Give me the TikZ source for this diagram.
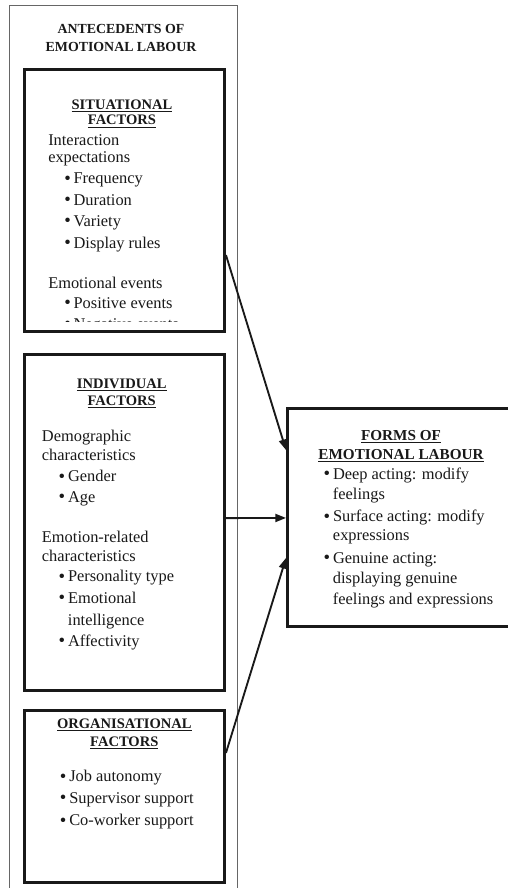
\documentclass[tikz,border=0pt]{standalone}
\usepackage{fontspec}
\setmainfont{Liberation Serif}
\usetikzlibrary{arrows.meta,calc,fit}
\newcommand\mybul{\makebox[7pt][l]{\raisebox{-0.3pt}{\fontsize{14}{14}\selectfont\textbullet}}}
\begin{document}
\begin{tikzpicture}[x=0.75pt,y=-0.75pt,
 frame/.style={draw=black!90, line width=2.2pt, inner sep=0pt},
 outer/.style={draw=black!60, line width=1.1pt, inner sep=0pt},
 txt/.style={anchor=base west, inner sep=0pt, text=black!90, font=\fontsize{12.3}{14}\selectfont},
 hd/.style={anchor=base, inner sep=0pt, text=black!90, font=\bfseries\fontsize{10.9}{13}\selectfont},
 bighd/.style={anchor=base, inner sep=0pt, text=black!90, font=\bfseries\fontsize{10.4}{12}\selectfont},
 fhd/.style={anchor=base, inner sep=0pt, text=black!90, font=\bfseries\fontsize{11.4}{13}\selectfont},
 arr/.style={line width=1.4pt, draw=black!90, -{Triangle[length=8pt,width=6pt]}}]
\fill[white] (0,0) rectangle (507,888);
\useasboundingbox (0,0) rectangle (507,888);

% outer antecedents box
\node[outer, fit={(9.5,5.5) (237.5,900)}] (ante) {};
\node[bighd] (a1) at (121,33.5) {ANTECEDENTS OF};
\node[bighd] (a2) at (121,51.5) {EMOTIONAL LABOUR};

% situational factors
\node[frame, fit={(24.5,69.5) (224.5,331.5)}] (sit) {};
\node[hd] (s0) at (122,109.5) {\underline{SITUATIONAL}};
\node[hd] (s00) at (122,125) {\underline{FACTORS}};
\node[txt] (s1) at (48,146) {Interaction};
\node[txt] (s2) at (48,162.5) {expectations};
\node[txt] (s3) at (64,184) {\mybul Frequency};
\node[txt] (s4) at (64,205) {\mybul Duration};
\node[txt] (s5) at (64,226) {\mybul Variety};
\node[txt] (s6) at (64,248) {\mybul Display rules};
\node[txt] (s7) at (48,288) {Emotional events};
\node[txt] (s8) at (64,308.5) {\mybul Positive events};
\begin{scope}
\clip (24,69) rectangle (225,321);
\node[txt] (s9) at (64,329.5) {\mybul Negative events};
\end{scope}

% individual factors
\node[frame, fit={(24.5,354.5) (224.5,690.5)}] (ind) {};
\node[hd] (i0) at (121.7,388) {\underline{INDIVIDUAL}};
\node[hd] (i00) at (121.7,405) {\underline{FACTORS}};
\node[txt] (i1) at (41.7,441.7) {Demographic};
\node[txt] (i2) at (41.7,460.7) {characteristics};
\node[txt] (i3) at (58.4,481.7) {\mybul Gender};
\node[txt] (i4) at (58.4,502) {\mybul Age};
\node[txt] (i5) at (41.7,542.7) {Emotion-related};
\node[txt] (i6) at (41.7,561.7) {characteristics};
\node[txt] (i7) at (58.4,581.7) {\mybul Personality type};
\node[txt] (i8) at (58.4,603.3) {\mybul Emotional};
\node[txt] (i9) at (67.7,625) {intelligence};
\node[txt] (i10) at (58.4,646) {\mybul Affectivity};

% organisational factors
\node[frame, fit={(24.5,710.5) (224.5,882.5)}] (org) {};
\node[hd] (o0) at (124.3,728.3) {\underline{ORGANISATIONAL}};
\node[hd] (o00) at (124.3,746) {\underline{FACTORS}};
\node[txt] (o1) at (59.7,781.7) {\mybul Job autonomy};
\node[txt] (o2) at (59.7,803.3) {\mybul Supervisor support};
\node[txt] (o3) at (59.7,825.7) {\mybul Co-worker support};

% forms of emotional labour
\node[frame, fit={(287.5,408.5) (530,626.5)}] (forms) {};
\node[fhd] (f0) at (401,440.7) {\underline{FORMS OF}};
\node[fhd] (f00) at (401,459) {\underline{EMOTIONAL LABOUR}};
\node[txt] (f1) at (323.4,479.3) {\mybul Deep acting: modify};
\node[txt] (f2) at (332.7,499.3) {feelings};
\node[txt] (f3) at (323.4,521.7) {\mybul Surface acting: modify};
\node[txt] (f4) at (332.7,540.7) {expressions};
\node[txt] (f5) at (323.4,563.3) {\mybul Genuine acting:};
\node[txt] (f6) at (332.7,583.3) {displaying genuine};
\node[txt] (f7) at (332.7,604) {feelings and expressions};

% connectors
\draw[arr] ($(sit.north east)!0.706!(sit.south east)$) -- ($(forms.north west)!0.195!(forms.south west)$);
\draw[arr] ($(ind.north east)!0.487!(ind.south east)$) -- ($(forms.north west)!0.502!(forms.south west)$);
\draw[arr] ($(org.north east)!0.251!(org.south east)$) -- ($(forms.north west)!0.683!(forms.south west)$);
\end{tikzpicture}
\end{document}
